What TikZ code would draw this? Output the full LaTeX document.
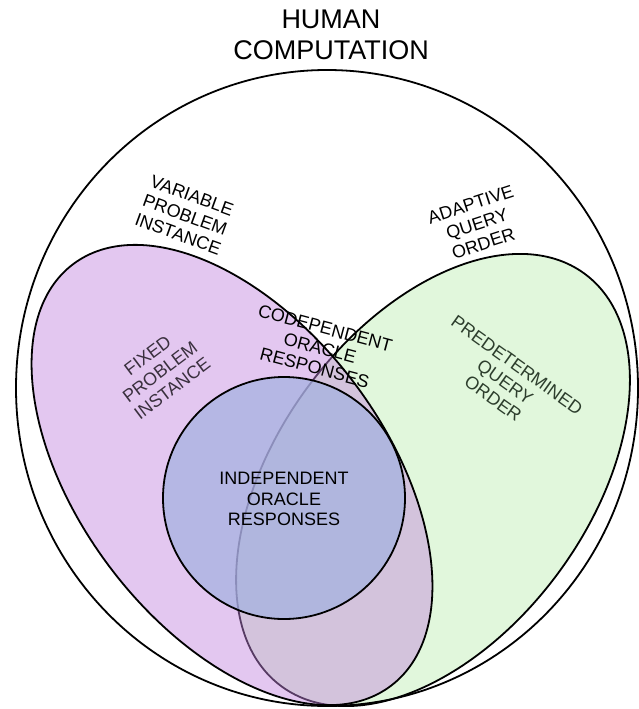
\documentclass[tikz,border=0pt]{standalone}
\usepackage{fontspec}
\setmainfont{Liberation Sans}
\definecolor{greenfill}{RGB}{225,247,220}
\definecolor{purplefill}{RGB}{195,133,222}
\definecolor{bluefill}{RGB}{162,177,223}
\definecolor{fixedtxt}{RGB}{58,48,62}
\definecolor{predtxt}{RGB}{45,62,45}
\begin{document}
\begin{tikzpicture}[x=1pt,y=-1pt,
  outline/.style={draw=black, line width=1.8pt},
  lbl/.style={font=\fontsize{18}{20.5}\selectfont, align=center, inner sep=0pt},
  ttl/.style={font=\fontsize{27}{31}\selectfont, align=center, inner sep=0pt}]
\useasboundingbox (0,0) rectangle (638,709);
\fill[white] (0,0) rectangle (638,709);
% green: predetermined query order
\draw[outline, fill=greenfill, rotate around={53.7:(433,480)}] (433,480) ellipse [x radius=256pt, y radius=156pt];
% purple: fixed problem instance
\draw[outline, fill=purplefill, fill opacity=0.45, rotate around={-53:(232,475)}] (232,475) ellipse [x radius=264pt, y radius=153pt];
% blue: independent oracle responses
\draw[outline, fill=bluefill, fill opacity=0.7] (284,498) circle [radius=121pt];
% outer: human computation
\draw[outline] (327,388) ellipse [x radius=311pt, y radius=318pt];
% labels
\node[ttl] (human) at (331,35) {HUMAN\\COMPUTATION};
\node[lbl, rotate=-20] (variable) at (185,215) {VARIABLE\\PROBLEM\\INSTANCE};
\node[lbl, rotate=18] (adaptive) at (477,224) {ADAPTIVE\\QUERY\\ORDER};
\node[lbl, rotate=37, text=fixedtxt] (fixed) at (160,372) {FIXED\\PROBLEM\\INSTANCE};
\node[lbl, rotate=-15] (codep) at (320,348) {CODEPENDENT\\ORACLE\\RESPONSES};
\node[lbl, rotate=-35.5, text=predtxt] (predet) at (505,382) {PREDETERMINED\\QUERY\\ORDER};
\node[lbl] (indep) at (284,499) {INDEPENDENT\\ORACLE\\RESPONSES};
\end{tikzpicture}
\end{document}
